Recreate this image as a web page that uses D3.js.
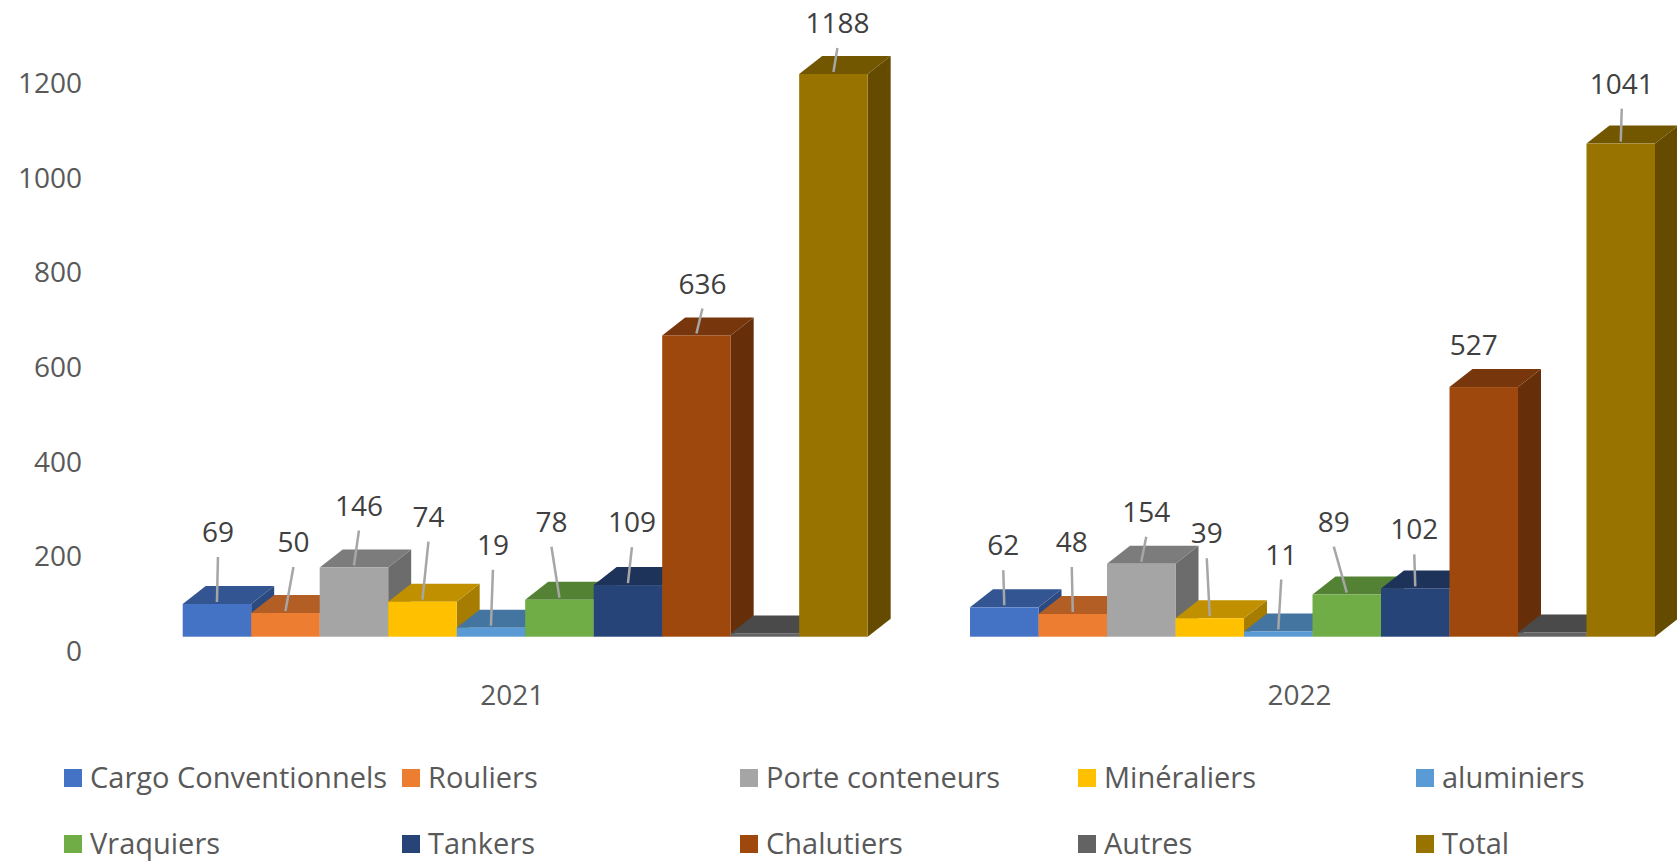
<!DOCTYPE html>
<html>
<head>
<meta charset="utf-8">
<script src="https://cdn.jsdelivr.net/npm/d3@7"></script>
<style>
  body { margin: 0; background: #fff; }
  text { font-family: "Open Sans", sans-serif; }
</style>
</head>
<body>
<svg id="chart"></svg>
<script>
var years = ["2021", "2022"];
var series = ["Cargo Conventionnels", "Rouliers", "Porte conteneurs", "Minéraliers", "aluminiers",
              "Vraquiers", "Tankers", "Chalutiers", "Autres", "Total"];
var values2021 = [69, 50, 146, 74, 19, 78, 109, 636, 7, 1188];
var values2022 = [62, 48, 154, 39, 11, 89, 102, 527, 9, 1041];
var yTicks = [0, 200, 400, 600, 800, 1000, 1200];
var colors = ["#4472C4", "#ED7D31", "#A5A5A5", "#FFC000", "#5B9BD5",
              "#70AD47", "#264478", "#9E480E", "#636363", "#997300"];

// data labels were dragged by hand in the original: lift above the bar top, sideways nudge
var labelLift = { "2021": [72, 71, 62, 85, 83, 78, 63, 52, null, 51],
                  "2022": [62, 72, 52, 85, 77, 73, 59, 42, null, 60] };
var labelNudge = { "2021": [1, 8, 5, 6, 2, -8, 4, 6, 0, 4],
                   "2022": [-1, -1, 5, -3, 3, -13, -1, -10, 0, 1] };

var width = 1677;
var height = 862;
var depthX = 23, depthY = 18;

var svg = d3.select("#chart")
            .attr("width", width)
            .attr("height", height);

var valuesByYear = { "2021": values2021, "2022": values2022 };

var x0 = d3.scaleBand()
           .domain(years)
           .range([182.7, 1655])
           .paddingInner(0.13);

var x1 = d3.scaleBand()
           .domain(series)
           .range([0, x0.bandwidth()]);

// bars stand on the front edge of the floor, axis labels sit a little lower
var y = d3.scaleLinear().domain([0, 1200]).range([636.7, 636.7 - 568.4]);
var yAxisScale = d3.scaleLinear().domain([0, 1200]).range([651.7, 83.3]);

/*value axis*/
var axis = svg.append("g")
              .attr("transform", "translate(82,0)")
              .call(d3.axisLeft(yAxisScale)
                      .tickValues(yTicks)
                      .tickFormat(d3.format("d"))
                      .tickSize(0)
                      .tickPadding(0));
axis.select(".domain").remove();
axis.selectAll("text")
    .attr("font-size", 28)
    .attr("font-family", "Open Sans, sans-serif")
    .attr("fill", "#595959");

/*bars, drawn left to right so the next bar hides the previous side*/
years.forEach(function(year)
{
  var g = svg.append("g")
             .attr("transform", "translate(" + x0(year) + ",0)");
  var rows = series.map(function(s, i)
  {
    return { name: s, value: valuesByYear[year][i], color: colors[i], i: i };
  });
  var bw = x1.bandwidth();

  var bar = g.selectAll("g.bar")
             .data(rows)
             .enter()
             .append("g")
             .attr("class", "bar");

  bar.append("polygon")
     .attr("points", function(d)
     {
       var x = x1(d.name), t = y(d.value), b = y(0);
       return [[x + bw, t], [x + bw + depthX, t - depthY], [x + bw + depthX, b - depthY], [x + bw, b]].join(" ");
     })
     .attr("fill", function(d) { return d3.color(d.color).darker(1.2); });

  bar.append("polygon")
     .attr("points", function(d)
     {
       var x = x1(d.name), t = y(d.value);
       return [[x, t], [x + depthX, t - depthY], [x + bw + depthX, t - depthY], [x + bw, t]].join(" ");
     })
     .attr("fill", function(d) { return d3.color(d.color).darker(0.8); });

  bar.append("rect")
     .attr("x", function(d) { return x1(d.name); })
     .attr("y", function(d) { return y(d.value); })
     .attr("width", bw)
     .attr("height", function(d) { return y(0) - y(d.value); })
     .attr("fill", function(d) { return d.color; });

  /*labels with leader lines*/
  var labelled = rows.filter(function(d) { return labelLift[year][d.i] !== null; });

  var lab = g.selectAll("g.lab")
             .data(labelled)
             .enter()
             .append("g")
             .attr("class", "lab");

  lab.filter(function(d) { return labelLift[year][d.i] > 45; })
     .append("line")
     .attr("x1", function(d) { return x1(d.name) + bw / 2 + labelNudge[year][d.i]; })
     .attr("y1", function(d) { return y(d.value) - labelLift[year][d.i] + 25; })
     .attr("x2", function(d) { return x1(d.name) + bw / 2; })
     .attr("y2", function(d) { return y(d.value) - 2; })
     .attr("stroke", "#A6A6A6")
     .attr("stroke-width", 2.5);

  lab.append("text")
     .text(function(d) { return d.value; })
     .attr("x", function(d) { return x1(d.name) + bw / 2 + labelNudge[year][d.i]; })
     .attr("y", function(d) { return y(d.value) - labelLift[year][d.i]; })
     .attr("dy", "0.36em")
     .attr("text-anchor", "middle")
     .attr("font-size", 28)
     .attr("fill", "#404040");

  /*category label*/
  g.append("text")
   .text(year)
   .attr("x", x0.bandwidth() / 2 - 13)
   .attr("y", 695)
   .attr("dy", "0.36em")
   .attr("text-anchor", "middle")
   .attr("font-size", 28)
   .attr("fill", "#595959");
});

/*legend*/
var legend = svg.append("g");

var item = legend.selectAll("g")
                 .data(series)
                 .enter()
                 .append("g")
                 .attr("transform", function(d, i)
                 {
                   return "translate(" + (64 + (i % 5) * 338) + "," + (778 + Math.floor(i / 5) * 66) + ")";
                 });

item.append("rect")
    .attr("x", 0)
    .attr("y", -9)
    .attr("width", 18)
    .attr("height", 18)
    .attr("fill", function(d, i) { return colors[i]; });

item.append("text")
    .text(function(d) { return d; })
    .attr("x", 26)
    .attr("dy", "0.36em")
    .attr("font-size", 29)
    .attr("fill", "#595959");
</script>
</body>
</html>
